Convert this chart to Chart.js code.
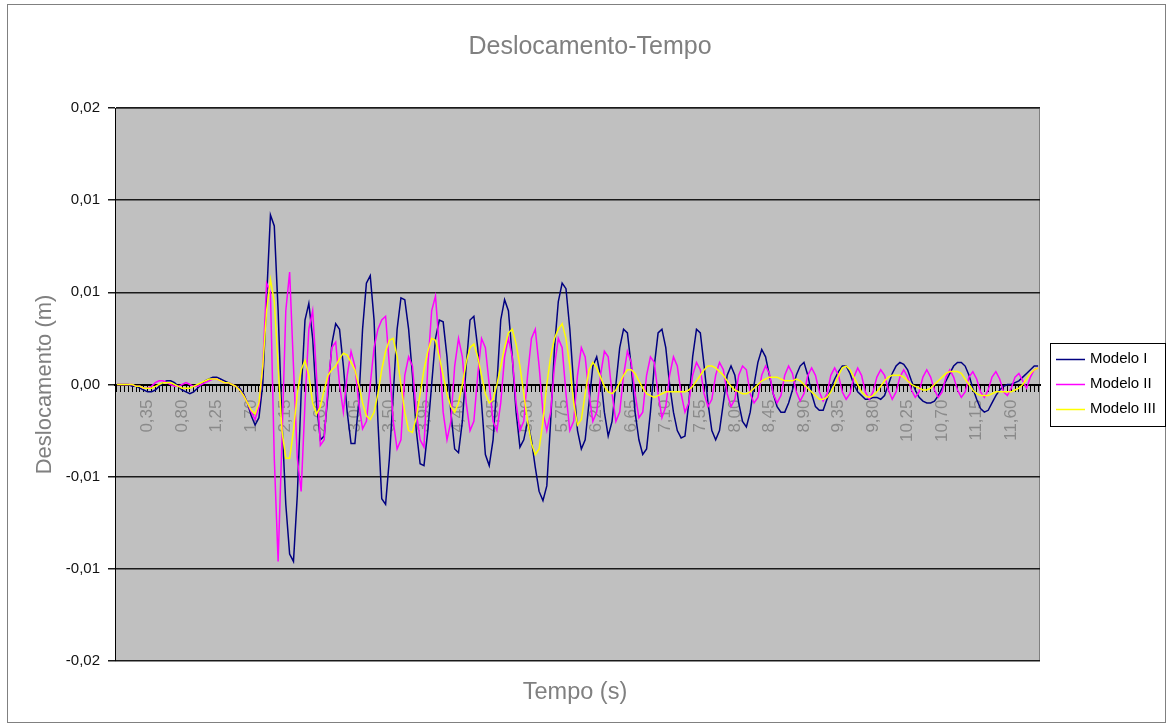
<!DOCTYPE html>
<html>
<head>
<meta charset="utf-8">
<script src="https://cdn.jsdelivr.net/npm/chart.js@4/dist/chart.umd.min.js"></script>
<style>
  html, body { margin: 0; padding: 0; background: #ffffff; }
  #wrap { position: relative; width: 1173px; height: 728px; }
</style>
</head>
<body>
<div id="wrap"><canvas id="c" width="1173" height="728"></canvas></div>
<script>
// Time axis (s): uniform 0.05 s step, first row is the pre-event sample
const tempo = [];
for (let i = 0; i < 241; i++) tempo.push(Math.round((i - 1) * 5) / 100);

// Displacement histories (m)
const modeloI = [0,0,0,0,-0.0001,-0.0001,-0.0002,-0.0003,-0.0004,-0.0004,
-0.0003,-0.0001,0.0001,0.0002,0.0002,0.0001,-0.0001,-0.0003,-0.0004,-0.0005,
-0.0004,-0.0002,0,0.0002,0.0003,0.0004,0.0004,0.0003,0.0002,0.0001,
0,-0.0001,-0.0002,-0.0005,-0.001,-0.0017,-0.0022,-0.0018,0,0.0047,
0.0092,0.0086,0.004,-0.002,-0.0065,-0.0092,-0.0096,-0.006,-0.0005,0.0035,
0.0044,0.0025,-0.001,-0.003,-0.0028,-0.0005,0.0022,0.0033,0.003,0.001,
-0.0015,-0.0032,-0.0032,-0.001,0.003,0.0055,0.0059,0.0035,-0.002,-0.0062,
-0.0065,-0.004,-0.0005,0.003,0.0047,0.0046,0.003,0.0005,-0.0025,-0.0043,
-0.0044,-0.0025,0,0.0025,0.0035,0.0034,0.0015,-0.0015,-0.0035,-0.0037,
-0.002,0.001,0.0035,0.0037,0.002,-0.001,-0.0038,-0.0044,-0.003,0,
0.0035,0.0046,0.004,0.0015,-0.0015,-0.0034,-0.003,-0.002,-0.003,-0.0045,
-0.0058,-0.0063,-0.0055,-0.002,0.002,0.0045,0.0055,0.0052,0.003,0,
-0.0025,-0.0035,-0.003,-0.001,0.001,0.0015,0.0005,-0.0015,-0.0028,-0.002,
0,0.002,0.003,0.0028,0.001,-0.0015,-0.003,-0.0038,-0.0035,-0.0015,
0.001,0.0028,0.003,0.002,0,-0.0015,-0.0025,-0.0029,-0.0028,-0.001,
0.0015,0.003,0.0028,0.001,-0.001,-0.0025,-0.003,-0.0025,-0.001,0.0005,
0.001,0.0005,-0.001,-0.002,-0.0023,-0.0015,0,0.0012,0.0019,0.0015,
0.0005,-0.0005,-0.0012,-0.0015,-0.0015,-0.001,-0.0003,0.0005,0.001,0.0012,
0.0005,-0.0005,-0.0012,-0.0014,-0.0014,-0.0008,-0.0002,0.0003,0.0007,0.001,
0.001,0.0006,0,-0.0004,-0.0006,-0.0008,-0.0008,-0.0007,-0.0007,-0.0008,
-0.0006,0,0.0006,0.001,0.0012,0.0011,0.0008,0.0002,-0.0003,-0.0007,
-0.0009,-0.001,-0.001,-0.0009,-0.0006,-0.0002,0.0002,0.0006,0.001,0.0012,
0.0012,0.001,0.0005,-0.0002,-0.0008,-0.0013,-0.0015,-0.0014,-0.001,-0.0006,
-0.0003,-0.0001,0,0,0.0001,0.0002,0.0004,0.0006,0.0008,0.001,
0.001];

const modeloII = [0,0,0,0,0,-0.0001,-0.0001,-0.0002,-0.0002,-0.0001,
0.0001,0.0002,0.0002,0.0001,0,-0.0001,-0.0001,0,0.0001,0,
-0.0001,-0.0001,0,0.0001,0.0002,0.0003,0.0003,0.0002,0.0001,0.0001,
0,-0.0001,-0.0003,-0.0006,-0.001,-0.0015,-0.0019,-0.0012,0.001,0.0055,
0.005,-0.004,-0.0096,-0.003,0.004,0.0061,0.001,-0.004,-0.0058,-0.001,
0.003,0.004,0.0005,-0.0033,-0.003,0,0.002,0.0023,0,-0.0015,
0.0005,0.0018,0.001,-0.001,-0.0024,-0.002,0,0.002,0.003,0.0035,
0.0037,0.001,-0.002,-0.0035,-0.003,0.0005,0.0015,0.001,-0.0015,-0.003,
-0.0034,0.001,0.004,0.0048,0.002,-0.0015,-0.003,-0.002,0.001,0.0025,
0.0015,-0.001,-0.0025,-0.002,0.0005,0.0025,0.002,0,-0.002,-0.0025,
-0.001,0.0015,0.0025,0.0015,-0.001,-0.0025,-0.002,0.0005,0.0025,0.003,
0.001,-0.0015,-0.0025,-0.0015,0.001,0.0025,0.002,-0.0005,-0.0025,-0.002,
0.0005,0.002,0.0015,-0.0005,-0.002,-0.0015,0.0005,0.0018,0.0015,-0.0005,
-0.002,-0.0015,0.0005,0.0018,0.0012,-0.0005,-0.0018,-0.0015,0.0005,0.0015,
0.0012,-0.0005,-0.0018,-0.0012,0.0005,0.0015,0.001,-0.0005,-0.0015,-0.001,
0.0005,0.0012,0.0008,-0.0005,-0.0012,-0.0008,0.0005,0.0012,0.0008,-0.0005,
-0.0012,-0.0008,0.0005,0.001,0.0008,-0.0005,-0.001,-0.0007,0.0005,0.001,
0.0006,-0.0005,-0.001,-0.0006,0.0005,0.001,0.0006,-0.0004,-0.0009,-0.0005,
0.0005,0.0009,0.0005,-0.0004,-0.0009,-0.0005,0.0005,0.0009,0.0005,-0.0004,
-0.0008,-0.0005,0.0004,0.0009,0.0005,-0.0004,-0.0008,-0.0004,0.0004,0.0008,
0.0005,-0.0003,-0.0008,-0.0004,0.0004,0.0008,0.0004,-0.0003,-0.0007,-0.0004,
0.0004,0.0008,0.0004,-0.0003,-0.0007,-0.0004,0.0004,0.0008,0.0004,-0.0003,
-0.0007,-0.0004,0.0004,0.0007,0.0003,-0.0004,-0.0007,-0.0003,0.0004,0.0007,
0.0003,-0.0004,-0.0006,-0.0002,0.0004,0.0006,0.0002,-0.0002,0.0004,0.0008,
0.0009];

const modeloIII = [0,0,0,0,0,-0.0001,-0.0001,-0.0002,-0.0002,-0.0002,
-0.0001,0,0.0001,0.0001,0.0001,0,-0.0001,-0.0002,-0.0002,-0.0002,
-0.0001,0,0.0001,0.0002,0.0003,0.0003,0.0003,0.0002,0.0001,0.0001,
0,-0.0001,-0.0003,-0.0006,-0.001,-0.0014,-0.0016,-0.001,0.001,0.004,
0.0057,0.0045,0.001,-0.0025,-0.004,-0.004,-0.0025,-0.0005,0.0008,0.0013,
0.0005,-0.001,-0.0016,-0.0012,-0.0003,0.0005,0.0008,0.001,0.0014,0.0017,
0.0016,0.0012,0.0008,0,-0.001,-0.0017,-0.0019,-0.0015,-0.0005,0.0008,
0.0018,0.0024,0.0025,0.0015,0,-0.0015,-0.0025,-0.0026,-0.0018,-0.0005,
0.0008,0.0018,0.0025,0.0024,0.0015,0.0005,-0.0005,-0.0012,-0.0015,-0.001,
0,0.0012,0.002,0.0022,0.0015,0.0005,-0.0005,-0.001,-0.0008,0,
0.001,0.002,0.0028,0.003,0.0022,0.001,-0.0005,-0.002,-0.0032,-0.0038,
-0.0035,-0.002,0,0.0015,0.0025,0.003,0.0033,0.0025,0.001,-0.001,
-0.0022,-0.0019,-0.0005,0.0008,0.0012,0.0009,0.0004,-0.0001,-0.0004,-0.0005,
-0.0003,0.0001,0.0005,0.0008,0.0008,0.0006,0.0002,-0.0002,-0.0005,-0.0006,
-0.0007,-0.0006,-0.0005,-0.0004,-0.0004,-0.0004,-0.0004,-0.0004,-0.0004,-0.0003,
-0.0001,0.0002,0.0005,0.0008,0.001,0.001,0.0009,0.0007,0.0005,0.0002,
-0.0001,-0.0003,-0.0004,-0.0005,-0.0005,-0.0004,-0.0002,0,0.0002,0.0003,
0.0004,0.0004,0.0004,0.0003,0.0002,0.0002,0.0002,0.0003,0.0002,0,
-0.0002,-0.0004,-0.0006,-0.0008,-0.0008,-0.0007,-0.0004,0,0.0005,0.0009,
0.001,0.0008,0.0004,0,-0.0004,-0.0006,-0.0007,-0.0006,-0.0004,-0.0001,
0.0002,0.0004,0.0005,0.0005,0.0005,0.0004,0.0002,0,-0.0001,-0.0002,
-0.0003,-0.0003,-0.0002,0,0.0002,0.0004,0.0006,0.0007,0.0007,0.0007,
0.0006,0.0003,0,-0.0003,-0.0005,-0.0006,-0.0006,-0.0006,-0.0005,-0.0004,
-0.0004,-0.0004,-0.0004,-0.0004,-0.0003,-0.0002,0,0.0003,0.0006,0.0008,
0.0009];

const seriesNames = ['Modelo I', 'Modelo II', 'Modelo III'];
const seriesColors = ['#000080', '#FF00FF', '#FFFF00'];

// Value axis: ticks every 0.005 m, labels shown with two decimals
const yTicks = [-0.015, -0.01, -0.005, 0, 0.005, 0.01, 0.015];
const yTickLabels = ['-0,02', '-0,01', '-0,01', '0,00', '0,01', '0,01', '0,02'];
const xLabelEvery = 9;
const xLabelFirst = 8;

const chartTitle = 'Deslocamento-Tempo';
const xTitle = 'Tempo (s)';
const yTitle = 'Deslocamento (m)';

const FONT = "'Liberation Sans', Arial, sans-serif";
const fmtTempo = t => t.toFixed(2).replace('.', ',');

// Grey plot area and outer frame
const backdrop = {
  id: 'backdrop',
  beforeDraw(chart) {
    const { ctx, chartArea: a } = chart;
    ctx.save();
    ctx.strokeStyle = '#808080';
    ctx.lineWidth = 1;
    ctx.strokeRect(7.5, 4.5, 1158, 718);
    ctx.fillStyle = '#C0C0C0';
    ctx.fillRect(a.left, a.top, a.right - a.left, a.bottom - a.top);
    ctx.strokeStyle = '#808080';
    ctx.strokeRect(a.left + 0.5, a.top + 0.5, a.right - a.left - 1, a.bottom - a.top - 1);
    ctx.restore();
  }
};

// Titles and boxed legend
const annotations = {
  id: 'annotations',
  afterDraw(chart) {
    const { ctx, chartArea: a } = chart;
    ctx.save();
    ctx.fillStyle = '#808080';
    ctx.textAlign = 'center';
    ctx.textBaseline = 'middle';
    ctx.font = '25px ' + FONT;
    ctx.fillText(chartTitle, 590, 47);
    ctx.font = '23.5px ' + FONT;
    ctx.fillText(xTitle, 575, 693);
    ctx.font = '22px ' + FONT;
    ctx.translate(45, (a.top + a.bottom) / 2);
    ctx.rotate(-Math.PI / 2);
    ctx.fillText(yTitle, 0, 0);
    ctx.restore();

    // legend
    const lx = 1050, ly = 343, lw = 115, lh = 83;
    ctx.save();
    ctx.fillStyle = '#ffffff';
    ctx.fillRect(lx, ly, lw, lh);
    ctx.strokeStyle = '#000000';
    ctx.lineWidth = 1;
    ctx.strokeRect(lx + 0.5, ly + 0.5, lw, lh);
    ctx.font = '15px ' + FONT;
    ctx.textAlign = 'left';
    ctx.textBaseline = 'middle';
    chart.data.datasets.forEach((ds, k) => {
      const yy = ly + 16 + k * 25;
      ctx.strokeStyle = ds.borderColor;
      ctx.lineWidth = 1.5;
      ctx.beginPath();
      ctx.moveTo(lx + 6, yy + 0.5);
      ctx.lineTo(lx + 35, yy + 0.5);
      ctx.stroke();
      ctx.fillStyle = '#000000';
      ctx.fillText(ds.label, lx + 40, yy);
    });
    ctx.restore();
  }
};

const datasets = [modeloI, modeloII, modeloIII].map((d, k) => ({
  label: seriesNames[k],
  data: d,
  borderColor: seriesColors[k],
  backgroundColor: seriesColors[k],
  borderWidth: 1.5,
  pointRadius: 0,
  tension: 0,
  fill: false,
  order: 3 - k
}));

new Chart(document.getElementById('c'), {
  type: 'line',
  data: { labels: tempo, datasets },
  options: {
    responsive: false,
    animation: false,
    events: [],
    layout: { padding: { left: 0, top: 108, right: 133, bottom: 67 } },
    plugins: { legend: { display: false }, title: { display: false }, tooltip: { enabled: false } },
    scales: {
      x: {
        type: 'category',
        offset: true,
        position: { y: 0 },
        grid: { drawOnChartArea: false, drawTicks: true, tickLength: 6, color: '#000000', lineWidth: 1 },
        border: { display: true, color: '#000000', width: 2 },
        ticks: {
          autoSkip: false, minRotation: 90, maxRotation: 90, padding: 9,
          color: '#8a8a8a', font: { family: FONT, size: 17 },
          callback: (v, i) => ((i - xLabelFirst) % xLabelEvery === 0 && i >= xLabelFirst ? fmtTempo(tempo[i]) : '')
        },
        afterFit: s => { s.height = 0; }
      },
      y: {
        min: -0.015, max: 0.015,
        afterBuildTicks: s => { s.ticks = yTicks.map(v => ({ value: v })); },
        grid: { color: '#1a1a1a', lineWidth: 1.5, tickLength: 7, drawTicks: true },
        border: { display: true, color: '#000000', width: 1 },
        ticks: { padding: 8, color: '#111111', font: { family: FONT, size: 15 }, callback: (v, i) => yTickLabels[i] },
        afterFit: s => { s.width = 115; }
      }
    }
  },
  plugins: [backdrop, annotations]
});
</script>
</body>
</html>
